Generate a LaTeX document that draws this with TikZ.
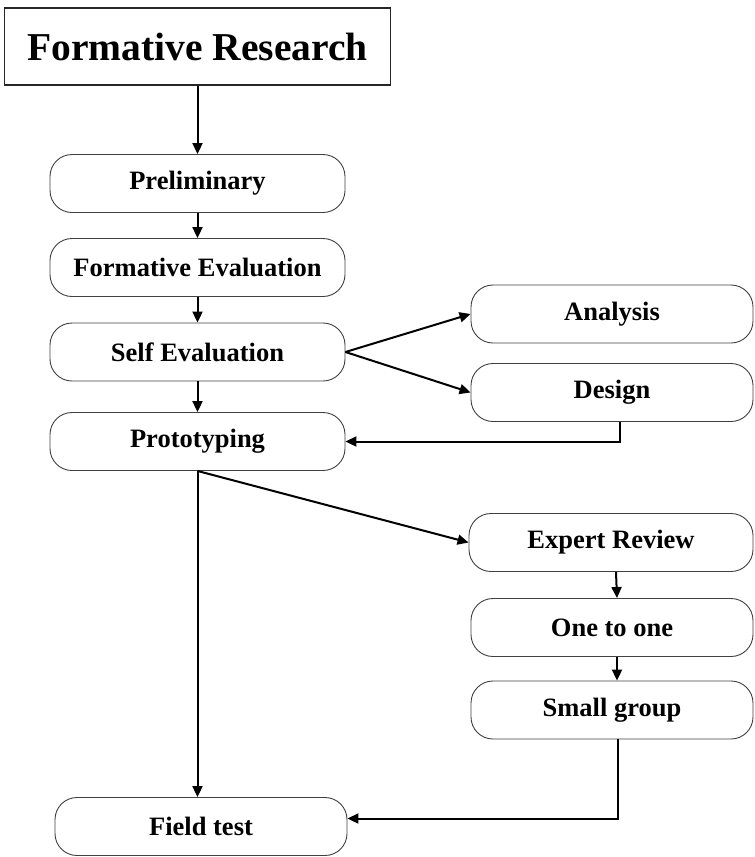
\documentclass[tikz,border=0pt]{standalone}
\usepackage{fontspec}
\setmainfont{Liberation Serif}
\usetikzlibrary{arrows.meta}
\begin{document}
\begin{tikzpicture}[x=1pt,y=-1pt,
    stage/.style={draw=black!75, line width=0.9pt, rounded corners=22pt,
      minimum width=295pt, minimum height=58pt, inner sep=0pt,
      font=\fontsize{26.5}{31}\selectfont\bfseries},
    substage/.style={stage, minimum width=282pt}]
  \useasboundingbox (0,0) rectangle (755,857);
  \draw
    (197.5,46.5) node[draw=black!85, line width=1.2pt, minimum width=386pt, minimum height=77pt,
      font=\fontsize{39.5}{46}\selectfont\bfseries] (research){Formative Research}
    (197.5,183.5) node[stage] (prelim){Preliminary}
    (197.5,267.5) node[stage] (formeval){Formative Evaluation}
    (197.5,352) node[stage] (selfeval){Self Evaluation}
    (197.5,441.5) node[stage] (proto){Prototyping}
    (612,314) node[substage] (analysis){Analysis}
    (612,392.5) node[substage] (design){Design}
    (611,542.5) node[substage, minimum width=284pt] (expert){Expert Review}
    (612,627.5) node[substage] (onetoone){One to one}
    (612,710) node[substage] (smallgroup){Small group}
    (201,826.5) node[stage, minimum width=292pt] (fieldtest){Field test};
  \begin{scope}[-{Triangle[length=11pt,width=10pt]}, line width=2pt]
    \draw (research) to (prelim);
    \draw (prelim) to (formeval);
    \draw (formeval) to (selfeval);
    \draw (selfeval) to (proto);
    \draw (selfeval.east) to (analysis.west);
    \draw (selfeval.east) to (design.west);
    \draw ([xshift=8pt]design.south) |- (proto.east);
    \draw (proto.south) to (expert.west);
    \draw (proto.south) -- (proto.south |- fieldtest.north);
    \draw ([xshift=5pt]expert.south) to ([xshift=5pt]onetoone.north);
    \draw ([xshift=5pt]onetoone.south) to ([xshift=5pt]smallgroup.north);
    \draw ([xshift=6pt]smallgroup.south) |- ([yshift=8pt]fieldtest.east);
  \end{scope}
\end{tikzpicture}
\end{document}
